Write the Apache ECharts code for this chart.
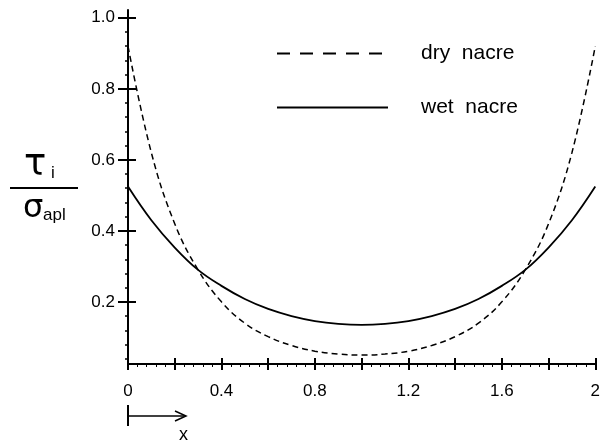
<!DOCTYPE html>
<html>
<head>
<meta charset="utf-8">
<script src="https://cdn.jsdelivr.net/npm/echarts@6/dist/echarts.min.js"></script>
<style>
  html, body { margin: 0; padding: 0; background: #fff; }
  #chart { width: 603px; height: 444px; }
</style>
</head>
<body>
<div id="chart"></div>
<script>
// values
var xPos = [0, 0.1, 0.2, 0.3, 0.4, 0.5, 0.6, 0.7, 0.8, 0.9, 1.0, 1.1, 1.2, 1.3, 1.4, 1.5, 1.6, 1.7, 1.8, 1.9, 2.0];
var dryNacre = [0.92, 0.62, 0.42, 0.29, 0.20, 0.14, 0.102, 0.077, 0.061, 0.053, 0.05, 0.053, 0.061, 0.077, 0.102, 0.14, 0.20, 0.29, 0.42, 0.62, 0.92];
var wetNacre = [0.525, 0.43, 0.353, 0.29, 0.245, 0.208, 0.18, 0.16, 0.146, 0.138, 0.135, 0.138, 0.146, 0.16, 0.18, 0.208, 0.245, 0.29, 0.353, 0.43, 0.525];

var xLabels = [0, 0.4, 0.8, 1.2, 1.6, 2];
var yMajor = [0.2, 0.4, 0.6, 0.8, 1.0];
var yMinor = [0.04, 0.08, 0.12, 0.16, 0.24, 0.28, 0.32, 0.36, 0.44, 0.48, 0.52, 0.56,
              0.64, 0.68, 0.72, 0.76, 0.84, 0.88, 0.92, 0.96];

var font = '"Liberation Sans", Arial, sans-serif';
var greek = '"DejaVu Sans", sans-serif';

function pairs(ys) {
    return xPos.map(function (x, i) { return [x, ys[i]]; });
}

var chart = echarts.init(document.getElementById('chart'));

var yBase = { type: 'value', min: 0.025, max: 1.022, position: 'left', splitLine: { show: false } };
var xBase = { type: 'value', min: 0, max: 2, interval: 0.2, splitLine: { show: false } };

chart.setOption({
    backgroundColor: '#fff',
    animation: false,
    grid: { left: 128, right: 7, top: 10, bottom: 80 },
    legend: {
        orient: 'vertical',
        left: 271,
        top: 38,
        itemWidth: 111,
        itemHeight: 20,
        itemGap: 33,
        textStyle: { fontFamily: font, fontSize: 21, lineHeight: 20, color: '#000', padding: [0, 0, 0, 28] },
        data: [
            { name: 'dry  nacre', itemStyle: { opacity: 0 }, lineStyle: { type: [13, 10], width: 2, color: '#000' } },
            { name: 'wet  nacre', itemStyle: { opacity: 0 }, lineStyle: { type: 'solid', width: 2, color: '#000' } }
        ]
    },
    xAxis: [
        Object.assign({}, xBase, {
            axisLine: { lineStyle: { color: '#000', width: 2 } },
            axisTick: { length: 6, lineStyle: { color: '#000', width: 2 } },
            minorTick: { show: true, splitNumber: 5, length: 3, lineStyle: { color: '#000', width: 1 } },
            axisLabel: { customValues: xLabels, margin: 19, color: '#000', fontFamily: font, fontSize: 17 }
        }),
        Object.assign({}, xBase, {
            position: 'bottom',
            axisLine: { show: false },
            axisTick: { inside: true, length: 6, lineStyle: { color: '#000', width: 2 } },
            axisLabel: { show: false }
        })
    ],
    yAxis: [
        Object.assign({}, yBase, {
            axisLine: { show: true, lineStyle: { color: '#000', width: 2 } },
            axisTick: { show: true, customValues: yMajor, length: 10, lineStyle: { color: '#000', width: 2 } },
            axisLabel: {
                customValues: yMajor, margin: 13, color: '#000', fontFamily: font, fontSize: 17,
                formatter: function (v) { return v.toFixed(1); }
            }
        }),
        Object.assign({}, yBase, {
            axisLine: { show: false },
            axisTick: { show: true, customValues: yMinor, length: 3, lineStyle: { color: '#000', width: 1.5 } },
            axisLabel: { show: false }
        }),
        Object.assign({}, yBase, {
            axisLine: { show: false },
            axisTick: { show: true, inside: true, customValues: yMajor, length: 8, lineStyle: { color: '#000', width: 2 } },
            axisLabel: { show: false }
        })
    ],
    series: [
        {
            name: 'dry  nacre',
            type: 'line',
            data: pairs(dryNacre),
            smooth: 0.4,
            symbol: 'none',
            itemStyle: { color: '#000' },
            lineStyle: { color: '#000', width: 1.5, type: [6, 4] }
        },
        {
            name: 'wet  nacre',
            type: 'line',
            data: pairs(wetNacre),
            smooth: 0.4,
            symbol: 'none',
            itemStyle: { color: '#000' },
            lineStyle: { color: '#000', width: 1.8, type: 'solid' }
        }
    ],
    graphic: [
        // y title: tau_i over sigma_apl
        { type: 'text', left: 24, top: 147, style: { text: 'τ', fontFamily: greek, fontSize: 37, fill: '#000' } },
        { type: 'text', left: 51, top: 165, style: { text: 'i', fontFamily: font, fontSize: 17, fill: '#000' } },
        { type: 'line', shape: { x1: 10, y1: 188, x2: 78, y2: 188 }, style: { stroke: '#000', lineWidth: 2 } },
        { type: 'text', left: 23, top: 193, style: { text: 'σ', fontFamily: greek, fontSize: 32, fill: '#000' } },
        { type: 'text', left: 43, top: 207, style: { text: 'apl', fontFamily: font, fontSize: 17, fill: '#000' } },
        // x arrow
        { type: 'line', shape: { x1: 128, y1: 405, x2: 128, y2: 426 }, style: { stroke: '#000', lineWidth: 2 } },
        { type: 'line', shape: { x1: 128, y1: 416, x2: 185, y2: 416 }, style: { stroke: '#000', lineWidth: 1.5 } },
        { type: 'polyline', shape: { points: [[175, 411], [186, 416], [175, 421]] }, style: { stroke: '#000', lineWidth: 1.5, fill: null } },
        { type: 'text', left: 179, top: 426, style: { text: 'x', fontFamily: font, fontSize: 18, fill: '#000' } }
    ]
});
</script>
</body>
</html>
